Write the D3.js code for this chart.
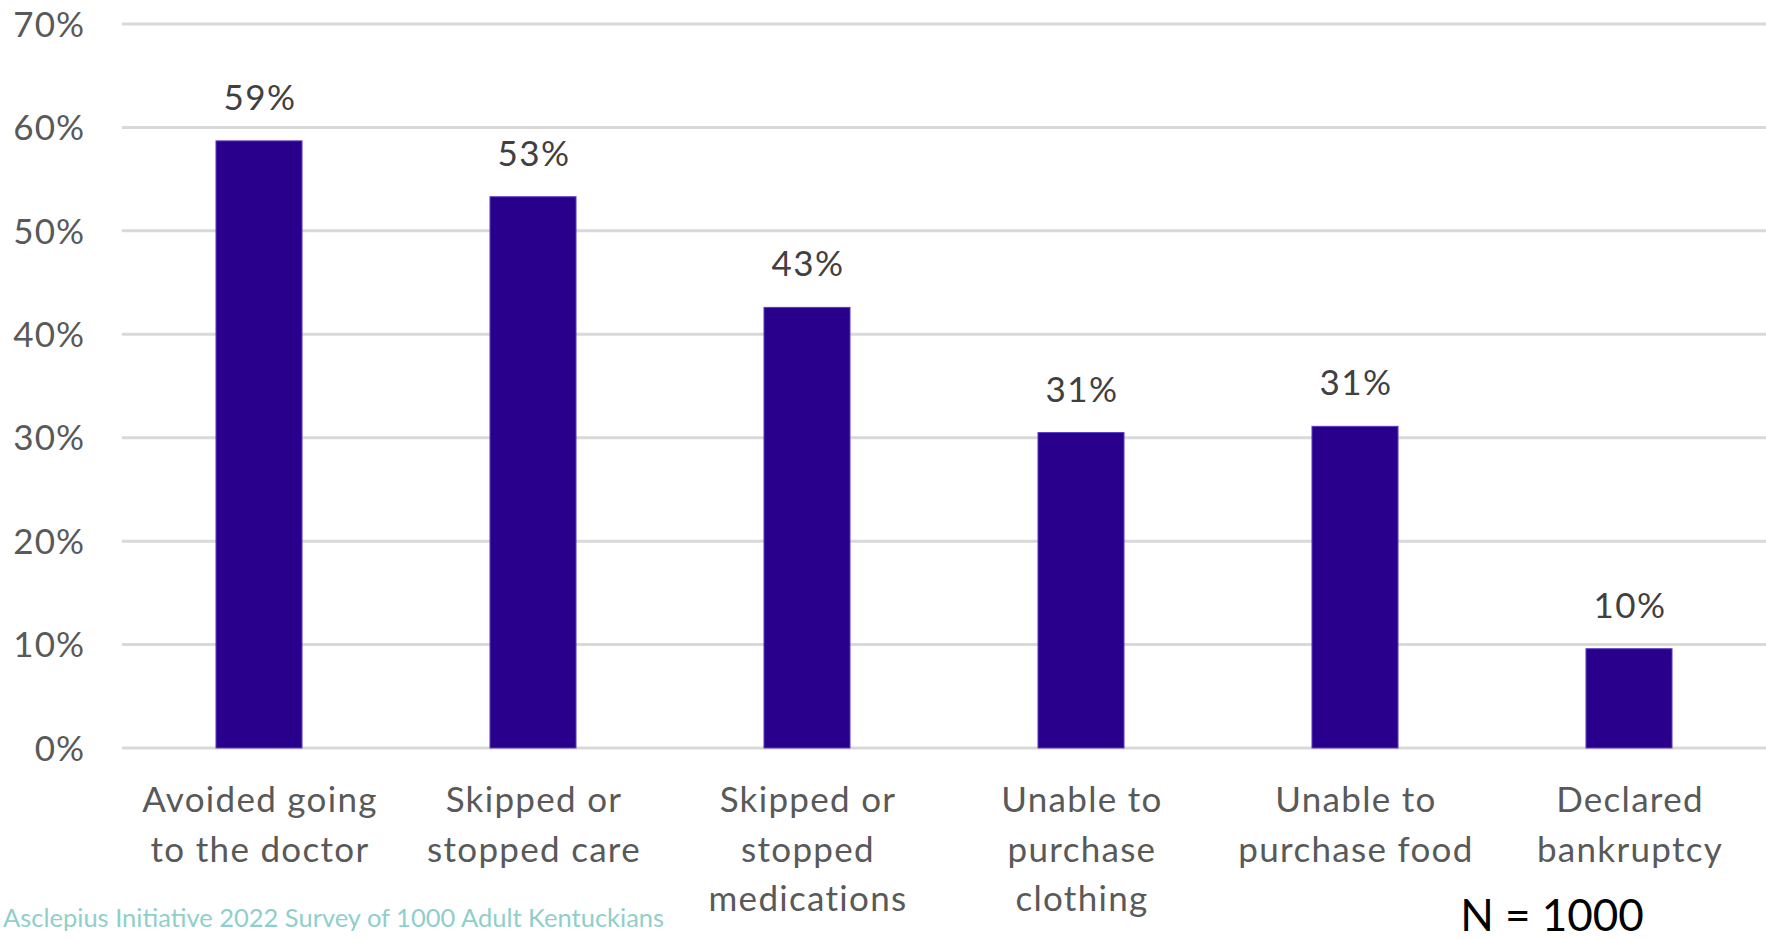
<!DOCTYPE html>
<html>
<head>
<meta charset="utf-8">
<script src="https://cdn.jsdelivr.net/npm/d3@7"></script>
<style>
  html, body { margin: 0; padding: 0; background: #ffffff; }
  svg { display: block; }
  text { font-family: Lato, "Open Sans", sans-serif; }
</style>
</head>
<body>
<svg id="chart" width="1766" height="939"></svg>
<script>
// ---- Data ----
const categories = [
  ["Avoided going", "to the doctor"],
  ["Skipped or", "stopped care"],
  ["Skipped or", "stopped", "medications"],
  ["Unable to", "purchase", "clothing"],
  ["Unable to", "purchase food"],
  ["Declared", "bankruptcy"]
];
const values = [58.7, 53.3, 42.6, 30.5, 31.1, 9.6];
const valueLabels = ["59%", "53%", "43%", "31%", "31%", "10%"];
const yTicks = [0, 10, 20, 30, 40, 50, 60, 70];
const footnote = "Asclepius Initiative 2022 Survey of 1000 Adult Kentuckians";
const sampleNote = "N = 1000";

// ---- Layout ----
const W = 1766, H = 939;
const plot = { left: 122, right: 1766, top: 24, bottom: 748 };

const svg = d3.select("#chart");

const x = d3.scaleBand()
  .domain(d3.range(categories.length))
  .range([plot.left, plot.right])
  .paddingInner(0.686)
  .paddingOuter(0.343);

const y = d3.scaleLinear()
  .domain([0, 70])
  .range([plot.bottom, plot.top]);

// gridlines
svg.append("g")
  .selectAll("line")
  .data(yTicks)
  .join("line")
  .attr("x1", plot.left)
  .attr("x2", plot.right)
  .attr("y1", d => y(d))
  .attr("y2", d => y(d))
  .attr("stroke", "#d9d9d9")
  .attr("stroke-width", 3);

// y axis labels
const yAxis = d3.axisLeft(y).tickValues(yTicks).tickFormat(d => d + "%").tickSize(0).tickPadding(0);
const yg = svg.append("g")
  .attr("transform", `translate(85,0)`)
  .call(yAxis);
yg.select(".domain").remove();
yg.selectAll("text")
  .attr("fill", "#595959")
  .style("font-size", "35px")
  .style("letter-spacing", "1px")
  .style("font-family", "Lato, sans-serif")
  .attr("dy", "0.35em");

// bars
svg.append("g")
  .selectAll("rect")
  .data(values)
  .join("rect")
  .attr("x", (d, i) => x(i))
  .attr("width", x.bandwidth())
  .attr("y", d => y(d))
  .attr("height", d => y(0) - y(d))
  .attr("fill", "#29008c")
  .attr("stroke", "#5b3fc4")
  .attr("stroke-width", 1);

// value labels
svg.append("g")
  .selectAll("text")
  .data(values)
  .join("text")
  .attr("x", (d, i) => x(i) + x.bandwidth() / 2 + 1)
  .attr("y", d => y(d) - 31)
  .attr("text-anchor", "middle")
  .attr("fill", "#404040")
  .style("font-size", "35px")
  .style("letter-spacing", "1.5px")
  .text((d, i) => valueLabels[i]);

// category labels
const cg = svg.append("g")
  .selectAll("text")
  .data(categories)
  .join("text")
  .attr("x", (d, i) => x(i) + x.bandwidth() / 2 + 1)
  .attr("y", 812)
  .attr("text-anchor", "middle")
  .attr("fill", "#595959")
  .style("font-size", "35px")
  .style("letter-spacing", "1.3px");
cg.selectAll("tspan")
  .data(d => d)
  .join("tspan")
  .attr("x", function() { return d3.select(this.parentNode).attr("x"); })
  .attr("dy", (d, j) => j === 0 ? 0 : 49.5)
  .text(d => d);

// footnote
svg.append("text")
  .attr("x", 3)
  .attr("y", 927)
  .attr("fill", "#8fcfcb")
  .style("font-size", "25.5px")
  .text(footnote);

// N = 1000
svg.append("text")
  .attr("x", 1552)
  .attr("y", 931)
  .attr("text-anchor", "middle")
  .attr("fill", "#000000")
  .style("font-size", "44px")
  .text(sampleNote);
</script>
</body>
</html>
